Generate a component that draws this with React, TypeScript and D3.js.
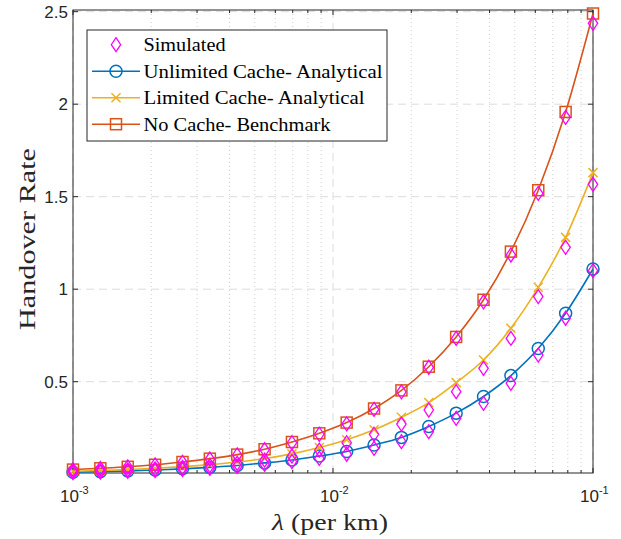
import React from "react";
import * as d3 from "d3";

// λ sample points (per km), 20 log-spaced values between 10^-3 and 10^-1
const LAMBDA = [
  0.001, 0.001274, 0.001624, 0.002069, 0.002637, 0.00336, 0.004281, 0.005456,
  0.006952, 0.008859, 0.011288, 0.014384, 0.01833, 0.023357, 0.029764,
  0.037927, 0.048329, 0.061585, 0.078476, 0.1,
];

// Analytical handover rates
const UNLIMITED = [
  0.011, 0.014, 0.018, 0.023, 0.029, 0.037, 0.047, 0.061, 0.077, 0.098, 0.123,
  0.158, 0.199, 0.258, 0.33, 0.42, 0.533, 0.679, 0.87, 1.109,
];
const LIMITED = [
  0.016, 0.02, 0.025, 0.032, 0.041, 0.052, 0.066, 0.085, 0.11, 0.144, 0.186,
  0.24, 0.308, 0.387, 0.495, 0.617, 0.789, 1.01, 1.28, 1.63,
];
const NO_CACHE = [
  0.025, 0.032, 0.04, 0.051, 0.066, 0.084, 0.106, 0.135, 0.174, 0.221, 0.279,
  0.355, 0.453, 0.581, 0.742, 0.943, 1.203, 1.535, 1.958, 2.49,
];

// Simulated handover rates
const SIM_UNLIMITED = [
  0.009, 0.012, 0.016, 0.02, 0.025, 0.032, 0.042, 0.054, 0.068, 0.086, 0.108,
  0.14, 0.176, 0.23, 0.302, 0.383, 0.491, 0.644, 0.843, 1.1,
];
const SIM_LIMITED = [
  0.014, 0.018, 0.023, 0.029, 0.037, 0.047, 0.059, 0.076, 0.098, 0.13, 0.17,
  0.216, 0.271, 0.347, 0.446, 0.572, 0.734, 0.96, 1.226, 1.567,
];
const SIM_NO_CACHE = [
  0.024, 0.031, 0.039, 0.05, 0.064, 0.082, 0.104, 0.132, 0.17, 0.216, 0.272,
  0.35, 0.445, 0.578, 0.734, 0.932, 1.185, 1.518, 1.929, 2.437,
];

const Y_TICKS = [0.5, 1, 1.5, 2, 2.5];
const X_DECADES = [-3, -2, -1];
const LEGEND_LABELS = [
  "Simulated",
  "Unlimited Cache- Analytical",
  "Limited Cache- Analytical",
  "No Cache- Benchmark",
];
const LEGEND_WIDTHS = [82, 239, 221, 187];

const W = 621;
const H = 539;
const PLOT = { left: 73, right: 593, top: 10, bottom: 473 };

const BLUE = "#0072BD";
const YELLOW = "#EDB120";
const RED = "#D95319";
const MAGENTA = "#FF00FF";
const AXIS = "#262626";
const SERIF = "'Liberation Serif', 'Times New Roman', serif";
const SANS = "'Liberation Sans', Arial, Helvetica, sans-serif";

function Marker({ kind, color }: { kind: string; color: string }) {
  const common = { fill: "none", stroke: color, strokeWidth: 1.5 };
  if (kind === "circle") return <circle r={6} {...common} />;
  if (kind === "square") return <rect x={-5.5} y={-5.5} width={11} height={11} {...common} />;
  if (kind === "x") return <path d="M-4.5,-4.5L4.5,4.5M-4.5,4.5L4.5,-4.5" {...common} />;
  return <path d="M0,-7L4.7,0L0,7L-4.7,0Z" {...common} strokeWidth={1.3} />;
}

export default function App() {
  const x = d3.scaleLog().domain([1e-3, 1e-1]).range([PLOT.left, PLOT.right]);
  const y = d3.scaleLinear().domain([0.0065, 2.509]).range([PLOT.bottom, PLOT.top]);

  const allTicks = x.ticks();
  const majorX = allTicks.filter((t) => Math.abs(Math.log10(t) - Math.round(Math.log10(t))) < 1e-9);
  const minorX = allTicks.filter((t) => !majorX.includes(t));

  const line = d3
    .line<number>()
    .x((_, i) => x(LAMBDA[i]))
    .y((v) => y(v))
    .curve(d3.curveMonotoneX);

  const analytical = [
    { data: UNLIMITED, color: BLUE, marker: "circle" },
    { data: LIMITED, color: YELLOW, marker: "x" },
    { data: NO_CACHE, color: RED, marker: "square" },
  ];
  const simulated = [SIM_NO_CACHE, SIM_LIMITED, SIM_UNLIMITED];

  const legendItems = [
    { color: MAGENTA, marker: "diamond", line: false },
    { color: BLUE, marker: "circle", line: true },
    { color: YELLOW, marker: "x", line: true },
    { color: RED, marker: "square", line: true },
  ];

  return (
    <svg
      width={W}
      height={H}
      style={{ position: "absolute", left: 0, top: 0, background: "#fff" }}
    >
      <rect x={0} y={0} width={W} height={H} fill="#fff" />

      {/* grid */}
      <g>
        {minorX.map((t) => (
          <line
            key={"mx" + t}
            x1={x(t)}
            x2={x(t)}
            y1={PLOT.top}
            y2={PLOT.bottom}
            stroke="#cfcfcf"
            strokeWidth={1}
            strokeDasharray="1,3"
          />
        ))}
        {majorX.map((t) => (
          <line
            key={"gx" + t}
            x1={x(t)}
            x2={x(t)}
            y1={PLOT.top}
            y2={PLOT.bottom}
            stroke="#dcdcdc"
            strokeWidth={1}
            strokeDasharray="8,5"
          />
        ))}
        {Y_TICKS.map((t) => (
          <line
            key={"gy" + t}
            x1={PLOT.left}
            x2={PLOT.right}
            y1={y(t)}
            y2={y(t)}
            stroke="#dcdcdc"
            strokeWidth={1}
            strokeDasharray="8,5"
          />
        ))}
      </g>

      {/* axes box and ticks */}
      <g stroke={AXIS} strokeWidth={1}>
        <rect
          x={PLOT.left}
          y={PLOT.top}
          width={PLOT.right - PLOT.left}
          height={PLOT.bottom - PLOT.top}
          fill="none"
        />
        {Y_TICKS.map((t) => (
          <g key={"ty" + t}>
            <line x1={PLOT.left} x2={PLOT.left + 5} y1={y(t)} y2={y(t)} />
            <line x1={PLOT.right} x2={PLOT.right - 5} y1={y(t)} y2={y(t)} />
          </g>
        ))}
        {majorX.map((t) => (
          <g key={"tx" + t}>
            <line x1={x(t)} x2={x(t)} y1={PLOT.bottom} y2={PLOT.bottom - 5} />
            <line x1={x(t)} x2={x(t)} y1={PLOT.top} y2={PLOT.top + 5} />
          </g>
        ))}
        {minorX.map((t) => (
          <g key={"tmx" + t}>
            <line x1={x(t)} x2={x(t)} y1={PLOT.bottom} y2={PLOT.bottom - 3} />
            <line x1={x(t)} x2={x(t)} y1={PLOT.top} y2={PLOT.top + 3} />
          </g>
        ))}
      </g>

      {/* tick labels */}
      <g fill={AXIS} fontFamily={SANS}>
        {Y_TICKS.map((t) => (
          <text key={"ly" + t} x={PLOT.left - 5} y={y(t) + 6} fontSize={17} textAnchor="end">
            {String(t)}
          </text>
        ))}
        {X_DECADES.map((e) => (
          <text key={"lx" + e} x={x(Math.pow(10, e)) - 13} y={501.5} fontSize={17}>
            10
            <tspan fontSize={11} dy={-7.5}>
              {"-" + Math.abs(e)}
            </tspan>
          </text>
        ))}
      </g>

      {/* axis titles */}
      <text
        x={330}
        y={530}
        fontFamily={SERIF}
        fontSize={23}
        fill={AXIS}
        textAnchor="middle"
        textLength={116}
        lengthAdjust="spacingAndGlyphs"
      >
        <tspan fontStyle="italic">λ</tspan> (per km)
      </text>
      <text
        transform="translate(35,239) rotate(-90)"
        fontFamily={SERIF}
        fontSize={23}
        fill={AXIS}
        textAnchor="middle"
        textLength={182}
        lengthAdjust="spacingAndGlyphs"
      >
        Handover Rate
      </text>

      {/* analytical curves */}
      {analytical.map((s, si) => (
        <g key={"s" + si}>
          <path d={line(s.data) || ""} fill="none" stroke={s.color} strokeWidth={1.6} />
          {s.data.map((v, i) => (
            <g key={i} transform={`translate(${x(LAMBDA[i])},${y(v)})`}>
              <Marker kind={s.marker} color={s.color} />
            </g>
          ))}
        </g>
      ))}

      {/* simulated points */}
      {simulated.map((series, si) => (
        <g key={"sim" + si}>
          {series.map((v, i) => (
            <g key={i} transform={`translate(${x(LAMBDA[i])},${y(v)})`}>
              <Marker kind="diamond" color={MAGENTA} />
            </g>
          ))}
        </g>
      ))}

      {/* legend */}
      <g>
        <rect x={87} y={30} width={300} height={111} fill="#fff" stroke={AXIS} strokeWidth={1} />
        {legendItems.map((item, i) => {
          const cy = 44.7 + i * 26.5;
          return (
            <g key={"lg" + i}>
              {item.line && (
                <line x1={92} x2={140} y1={cy} y2={cy} stroke={item.color} strokeWidth={1.6} />
              )}
              <g transform={`translate(116,${cy})`}>
                <Marker kind={item.marker} color={item.color} />
              </g>
              <text
                x={143.5}
                y={cy + 6.5}
                fontFamily={SERIF}
                fontSize={19.5}
                fill="#000"
                textLength={LEGEND_WIDTHS[i]}
                lengthAdjust="spacingAndGlyphs"
              >
                {LEGEND_LABELS[i]}
              </text>
            </g>
          );
        })}
      </g>
    </svg>
  );
}
